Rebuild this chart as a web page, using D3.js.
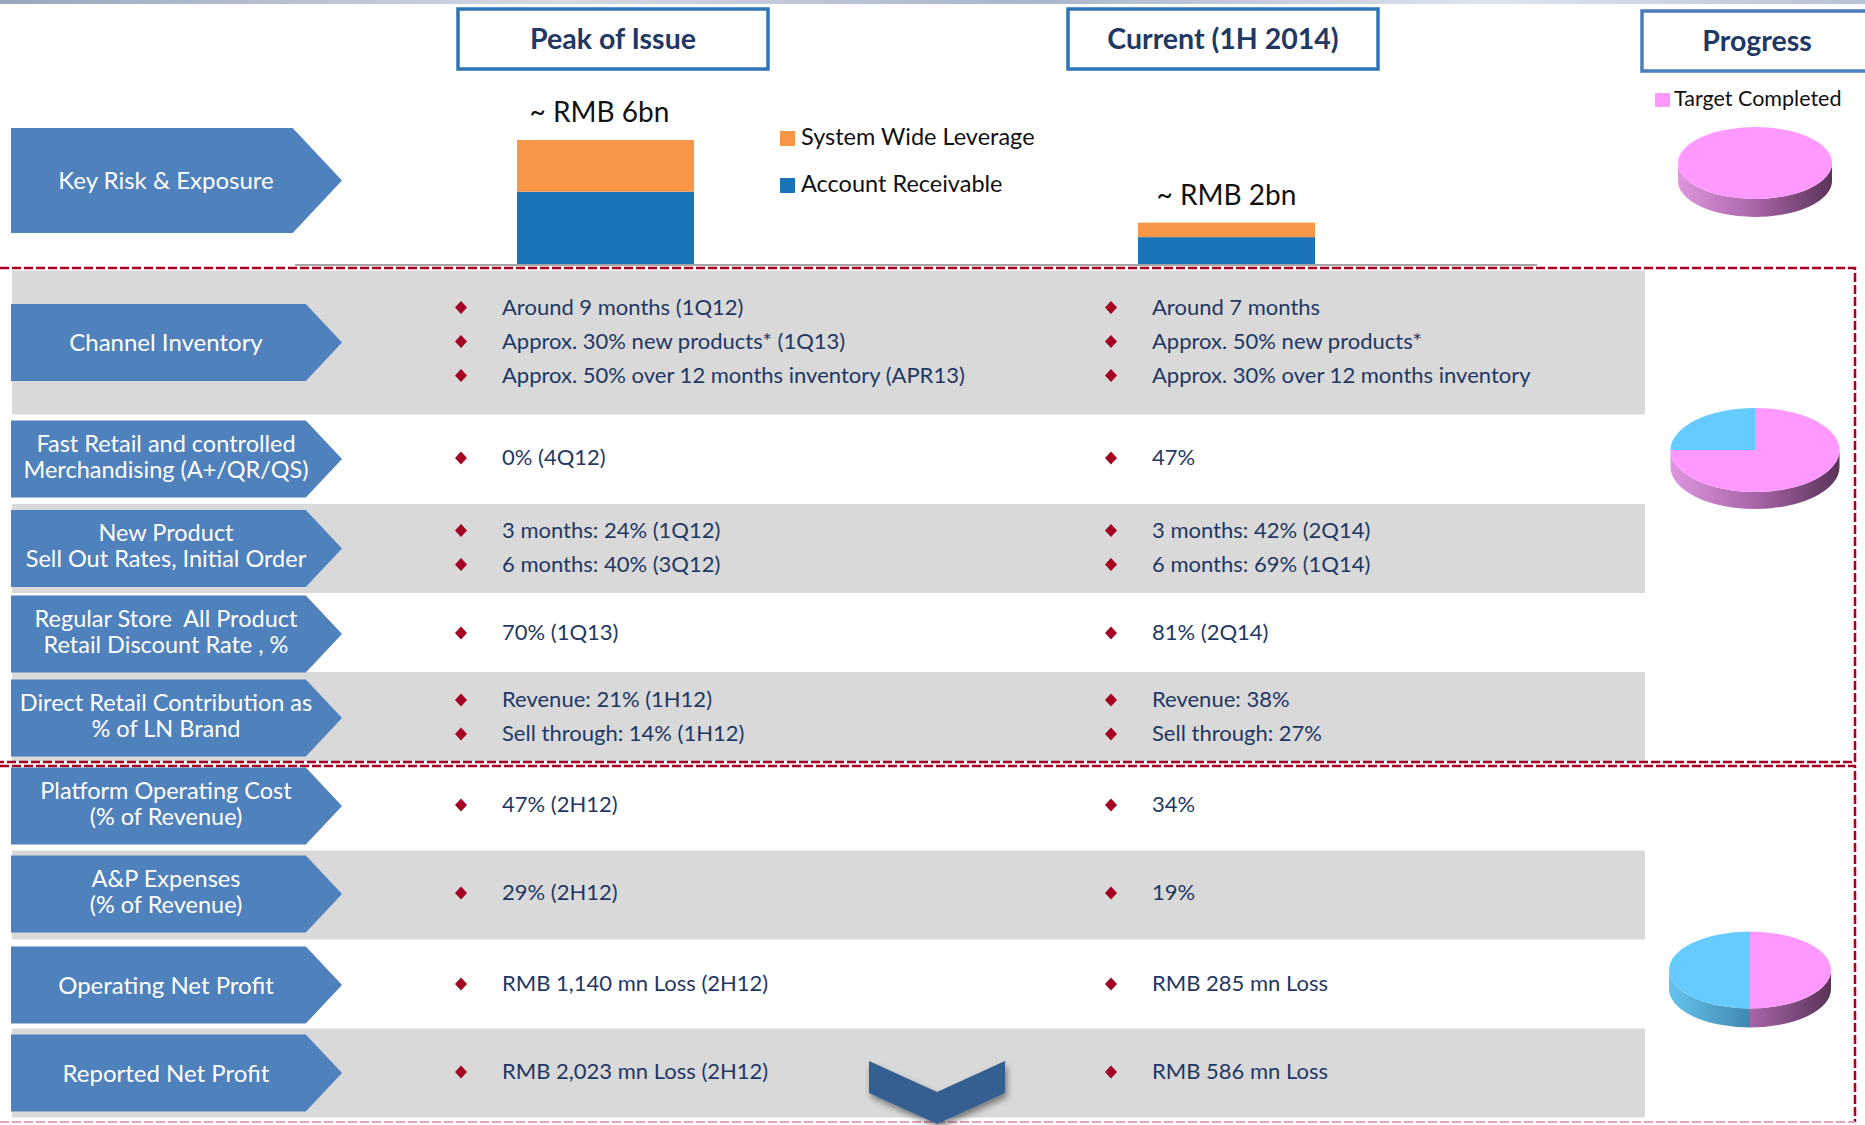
<!DOCTYPE html>
<html>
<head>
<meta charset="utf-8">
<script src="https://cdn.jsdelivr.net/npm/d3@7"></script>
<style>
body { margin: 0; background: #fff; }
svg { display: block; font-family: Lato, "Open Sans", sans-serif; }
</style>
</head>
<body>
<script>
var width = 1865,
    height = 1125;

// ---- data ----
var periods = ["Peak of Issue", "Current (1H 2014)"];
var seriesNames = ["Account Receivable", "System Wide Leverage"];
var receivable = [3.5, 1.3];
var leverage = [2.5, 0.7];
var totalLabels = ["~ RMB 6bn", "~ RMB 2bn"];

var rowLabels = [
    ["Key Risk & Exposure"],
    ["Channel Inventory"],
    ["Fast Retail and controlled", "Merchandising (A+/QR/QS)"],
    ["New Product", "Sell Out Rates, Initial Order"],
    ["Regular Store  All Product", "Retail Discount Rate , %"],
    ["Direct Retail Contribution as", "% of LN Brand"],
    ["Platform Operating Cost", "(% of Revenue)"],
    ["A&P Expenses", "(% of Revenue)"],
    ["Operating Net Profit"],
    ["Reported Net Profit"]
];

var peakItems = [
    null,
    ["Around 9 months (1Q12)", "Approx. 30% new products* (1Q13)", "Approx. 50% over 12 months inventory (APR13)"],
    ["0% (4Q12)"],
    ["3 months: 24% (1Q12)", "6 months: 40% (3Q12)"],
    ["70% (1Q13)"],
    ["Revenue: 21% (1H12)", "Sell through: 14% (1H12)"],
    ["47% (2H12)"],
    ["29% (2H12)"],
    ["RMB 1,140 mn Loss (2H12)"],
    ["RMB 2,023 mn Loss (2H12)"]
];

var currentItems = [
    null,
    ["Around 7 months", "Approx. 50% new products*", "Approx. 30% over 12 months inventory"],
    ["47%"],
    ["3 months: 42% (2Q14)", "6 months: 69% (1Q14)"],
    ["81% (2Q14)"],
    ["Revenue: 38%", "Sell through: 27%"],
    ["34%"],
    ["19%"],
    ["RMB 285 mn Loss"],
    ["RMB 586 mn Loss"]
];

var progressTitle = "Progress";
var progressLegend = "Target Completed";
var completed = [100, 75, 50];
var remaining = [0, 25, 50];

// ---- layout ----
var rowCenter = [180.5, 342.5, 459, 548.5, 634, 718, 806, 894, 985, 1073];
var colX = [461, 1111];
var headerX = [458, 1068];
var pieBox = [
    {cx: 1755, cy: 163, rx: 77, ry: 36, d: 18},
    {cx: 1755, cy: 450, rx: 84.5, ry: 42, d: 17},
    {cx: 1750, cy: 970, rx: 81, ry: 38.5, d: 19}
];

var navy = "#1F3864",
    arrowBlue = "#4F81BD",
    crimson = "#A50021",
    grey = "#D9D9D9";

var svg = d3.select("body")
    .append("svg")
    .attr("width", width)
    .attr("height", height);

var defs = svg.append("defs");

var topGrad = defs.append("linearGradient").attr("id", "topStrip");
topGrad.append("stop").attr("offset", "0%").attr("stop-color", "#9aa6bd");
topGrad.append("stop").attr("offset", "30%").attr("stop-color", "#d4dae6");
topGrad.append("stop").attr("offset", "55%").attr("stop-color", "#aab5cc");
topGrad.append("stop").attr("offset", "80%").attr("stop-color", "#dfe4ee");
topGrad.append("stop").attr("offset", "100%").attr("stop-color", "#b8c2d6");

svg.append("rect")
    .attr("x", 0).attr("y", 0)
    .attr("width", width).attr("height", 4)
    .attr("fill", "url(#topStrip)");

var shadow = defs.append("filter").attr("id", "shadow")
    .attr("x", "-20%").attr("y", "-20%").attr("width", "140%").attr("height", "160%");
shadow.append("feDropShadow")
    .attr("dx", 2).attr("dy", 4).attr("stdDeviation", 3)
    .attr("flood-color", "#000").attr("flood-opacity", 0.45);

// ---- grey bands ----
var bandCenter = [342.5, 548.5, 716.5, 895, 1073];
svg.selectAll("rect.band")
    .data(bandCenter)
    .enter()
    .append("rect")
    .attr("class", "band")
    .attr("x", 12)
    .attr("width", 1645 - 12)
    .attr("y", function(c, i) { return c - (i === 0 ? 72 : 44.5); })
    .attr("height", function(c, i) { return i === 0 ? 144 : 89; })
    .attr("fill", grey);

// ---- dashed frames ----
var dash = svg.append("g").attr("fill", "none").attr("stroke-dasharray", "9,3");
dash.append("path")
    .attr("d", "M0,268H1855V762H0")
    .attr("stroke", crimson).attr("stroke-width", 2.5);
dash.append("path")
    .attr("d", "M0,766H1855V1122")
    .attr("stroke", crimson).attr("stroke-width", 2.5);
dash.append("path")
    .attr("d", "M0,1122H1855")
    .attr("stroke", "#E3A3BA").attr("stroke-width", 2);

// ---- left arrows ----
function arrowPath(c, h) {
    var y0 = c - h / 2, y1 = c + h / 2, d = h * 0.47, tip = 342;
    return "M11," + y0 + "H" + (tip - d) + "L" + tip + "," + c + "L" + (tip - d) + "," + y1 + "H11Z";
}

var arrows = svg.selectAll("g.arrow")
    .data(rowLabels)
    .enter()
    .append("g")
    .attr("class", "arrow");

arrows.append("path")
    .attr("d", function(d, i) { return arrowPath(rowCenter[i], i === 0 ? 105 : 77); })
    .attr("fill", arrowBlue);

arrows.each(function(lines, i) {
    var g = d3.select(this);
    var lh = 26;
    lines.forEach(function(t, j) {
        g.append("text")
            .attr("x", 166)
            .attr("y", rowCenter[i] + (lines.length > 1 ? 5.5 : 8.5) + (j - (lines.length - 1) / 2) * lh)
            .attr("text-anchor", "middle")
            .attr("fill", "#fff")
            .style("font-size", lines.length > 1 ? "23.5px" : "24px")
            .style("white-space", "pre")
            .text(t);
    });
});

// ---- bullet columns ----
function drawColumn(items, x) {
    items.forEach(function(lines, i) {
        if (!lines) return;
        lines.forEach(function(t, j) {
            var y = rowCenter[i] + 6 + (j - (lines.length - 1) / 2) * 34;
            svg.append("path")
                .attr("d", "M" + x + "," + (y - 13.5) + "l6,6.5l-6,6.5l-6,-6.5Z")
                .attr("fill", crimson);
            svg.append("text")
                .attr("x", x + 41)
                .attr("y", y)
                .attr("fill", navy)
                .style("font-size", "22px")
                .text(t);
        });
    });
}
drawColumn(peakItems, colX[0]);
drawColumn(currentItems, colX[1]);

// ---- header boxes ----
var headers = svg.selectAll("g.header")
    .data(periods.concat([progressTitle]))
    .enter()
    .append("g")
    .attr("class", "header");

headers.append("rect")
    .attr("x", function(d, i) { return i < 2 ? headerX[i] : 1642; })
    .attr("y", function(d, i) { return i < 2 ? 9 : 11; })
    .attr("width", function(d, i) { return i < 2 ? 310 : 260; })
    .attr("height", 60)
    .attr("fill", "#fff")
    .attr("stroke", function(d, i) { return i < 2 ? "#2E75B6" : "#4A7EBB"; })
    .attr("stroke-width", 3.5);

headers.append("text")
    .attr("x", function(d, i) { return i < 2 ? headerX[i] + 155 : 1757; })
    .attr("y", function(d, i) { return i < 2 ? 49 : 51; })
    .attr("text-anchor", "middle")
    .attr("fill", navy)
    .style("font-size", "28.5px")
    .style("font-weight", "bold")
    .text(function(d) { return d; });

// ---- stacked bars ----
var x = d3.scalePoint().domain(periods).range([295, 1537]).padding(0.5);
var y = d3.scaleLinear().domain([0, 6]).range([264, 140]);
var color = d3.scaleOrdinal().domain(seriesNames).range(["#1A73B6", "#F79646"]);
var barW = 177;

var table = periods.map(function(p, i) {
    return {period: p, "Account Receivable": receivable[i], "System Wide Leverage": leverage[i]};
});
var stacked = d3.stack().keys(seriesNames)(table);

svg.append("line")
    .attr("x1", 295).attr("x2", 1537)
    .attr("y1", y(0) + 1).attr("y2", y(0) + 1)
    .attr("stroke", "#A6A6A6").attr("stroke-width", 2);

svg.selectAll("g.series")
    .data(stacked)
    .enter()
    .append("g")
    .attr("class", "series")
    .attr("fill", function(d) { return color(d.key); })
    .selectAll("rect")
    .data(function(d) { return d; })
    .enter()
    .append("rect")
    .attr("x", function(d) { return x(d.data.period) - barW / 2; })
    .attr("width", barW)
    .attr("y", function(d) { return y(d[1]); })
    .attr("height", function(d) { return y(d[0]) - y(d[1]); });

svg.selectAll("text.total")
    .data(periods)
    .enter()
    .append("text")
    .attr("class", "total")
    .attr("x", function(d, i) { return x(d) - (i === 0 ? 6 : 0); })
    .attr("y", function(d, i) { return y(receivable[i] + leverage[i]) - 18; })
    .attr("text-anchor", "middle")
    .attr("fill", "#111")
    .style("font-size", "28px")
    .text(function(d, i) { return totalLabels[i]; });

// bar legend (leverage on top)
var legend = svg.selectAll("g.legend")
    .data(seriesNames.slice().reverse())
    .enter()
    .append("g")
    .attr("class", "legend")
    .attr("transform", function(d, i) { return "translate(780," + (131 + i * 47) + ")"; });
legend.append("rect")
    .attr("width", 15).attr("height", 15)
    .attr("fill", function(d) { return color(d); });
legend.append("text")
    .attr("x", 21).attr("y", 14)
    .attr("fill", "#111")
    .style("font-size", "23.5px")
    .text(function(d) { return d; });

// ---- progress pies ----
svg.append("rect")
    .attr("x", 1655).attr("y", 93)
    .attr("width", 15).attr("height", 14)
    .attr("fill", "#FF99FF");
svg.append("text")
    .attr("x", 1674).attr("y", 106)
    .attr("fill", "#111")
    .style("font-size", "21.5px")
    .text(progressLegend);

var topColor = ["#FF99FF", "#66CCFF"];
var sideStops = [
    ["#DE96DE", "#A865A8", "#5A3358"],
    ["#66C2EE", "#3F88B0", "#24607F"]
];
var pie = d3.pie().sort(null).value(function(d) { return d; });

pieBox.forEach(function(p, k) {
    var arcs = pie([completed[k], remaining[k]]);
    var g = svg.append("g");

    sideStops.forEach(function(stops, s) {
        var lg = defs.append("linearGradient")
            .attr("id", "side" + k + "_" + s)
            .attr("gradientUnits", "userSpaceOnUse")
            .attr("x1", p.cx - p.rx).attr("x2", p.cx + p.rx)
            .attr("y1", 0).attr("y2", 0);
        stops.forEach(function(c, j) {
            lg.append("stop").attr("offset", (j * 50) + "%").attr("stop-color", c);
        });
    });

    function pt(a, dy) {
        return [p.cx + p.rx * Math.sin(a), p.cy - p.ry * Math.cos(a) + (dy || 0)];
    }

    // side walls
    arcs.forEach(function(a, s) {
        var s0 = Math.max(a.startAngle, Math.PI / 2),
            s1 = Math.min(a.endAngle, Math.PI * 3 / 2);
        if (s1 <= s0) return;
        var p0 = pt(s0), p1 = pt(s1), q1 = pt(s1, p.d), q0 = pt(s0, p.d);
        g.append("path")
            .attr("d", "M" + p0 + "A" + p.rx + "," + p.ry + " 0 0 1 " + p1 +
                "L" + q1 + "A" + p.rx + "," + p.ry + " 0 0 0 " + q0 + "Z")
            .attr("fill", "url(#side" + k + "_" + s + ")");
    });

    // top faces
    arcs.forEach(function(a, s) {
        var span = a.endAngle - a.startAngle;
        if (span <= 0) return;
        if (span >= Math.PI * 2 - 1e-6) {
            g.append("ellipse")
                .attr("cx", p.cx).attr("cy", p.cy)
                .attr("rx", p.rx).attr("ry", p.ry)
                .attr("fill", topColor[s]);
            return;
        }
        g.append("path")
            .attr("d", "M" + p.cx + "," + p.cy + "L" + pt(a.startAngle) +
                "A" + p.rx + "," + p.ry + " 0 " + (span > Math.PI ? 1 : 0) + " 1 " + pt(a.endAngle) + "Z")
            .attr("fill", topColor[s]);
    });
});

// ---- down chevron ----
svg.append("path")
    .attr("d", "M869,1061L937,1092L1005,1061V1093L937,1124L869,1093Z")
    .attr("fill", "#355F91")
    .attr("filter", "url(#shadow)");
</script>
</body>
</html>
